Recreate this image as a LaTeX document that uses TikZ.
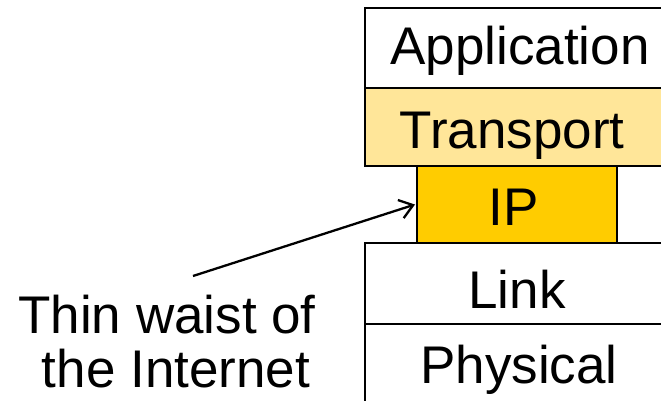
\documentclass[tikz,border=0pt]{standalone}
\usepackage{fontspec}
\setmainfont{Liberation Sans}
\usetikzlibrary{arrows.meta}
\definecolor{transportfill}{HTML}{FFE699}
\definecolor{ipfill}{HTML}{FFCC00}
\tikzset{
  layer/.style={draw=black, line width=2pt, inner sep=0pt},
  lbl/.style={anchor=base, inner sep=0pt, font=\fontsize{53}{60}\selectfont},
  pointer/.style={line width=2.3pt, -{Straight Barb[length=13pt,width=19pt,line width=2.3pt]}}
}
\begin{document}
\begin{tikzpicture}[x=1pt,y=-1pt]
  \useasboundingbox (0,0) rectangle (661,401);
  \begin{scope}
    \clip (0,0) rectangle (661,401);
    % protocol stack layers
    \node[layer, fill=white, minimum width=304pt, minimum height=80pt] (app) at (517,48) {};
    \node[layer, fill=transportfill, minimum width=304pt, minimum height=78pt] (trans) at (517,127) {};
    \node[layer, fill=ipfill, minimum width=200pt, minimum height=77pt] (ip) at (517,204.5) {};
    \node[layer, fill=white, minimum width=304pt, minimum height=81pt] (link) at (517,283.5) {};
    \node[layer, fill=white, minimum width=304pt, minimum height=90pt] (phys) at (517,369) {};
  \end{scope}
  % layer names
  \node[lbl] (appt) at (520,65) {Application};
  \node[lbl] (transt) at (512,148) {Transport};
  \node[lbl] (ipt) at (514,225) {IP};
  \node[lbl] (linkt) at (517,308) {Link};
  \node[lbl] (physt) at (519,383) {Physical};
  % caption with pointer to the IP layer
  \node[lbl] (cap1) at (167,333) {Thin waist of};
  \node[lbl] (cap2) at (176,387) {the Internet};
  \coordinate (tail) at (193,276);
  \draw[pointer] (tail) -- ([xshift=-1pt]ip.west);
\end{tikzpicture}
\end{document}
